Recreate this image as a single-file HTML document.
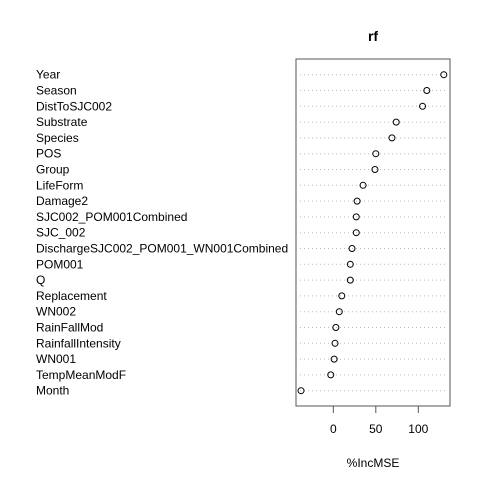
<!DOCTYPE html>
<html><head><meta charset="utf-8"><style>body{margin:0;background:#fff}svg{display:block;font-family:"Liberation Sans",Arial,sans-serif}</style></head>
<body>
<svg id="c" width="480" height="480">
<rect x="296" y="59" width="154" height="347" fill="none" stroke="#555" stroke-width="1"/>
<text x="373" y="41" text-anchor="middle" font-size="14" font-weight="bold">rf</text>
<text x="373" y="467" text-anchor="middle" font-size="12">%IncMSE</text>
</svg>
<script>
const categories=["Year","Season","DistToSJC002","Substrate","Species","POS","Group","LifeForm","Damage2","SJC002_POM001Combined","SJC_002","DischargeSJC002_POM001_WN001Combined","POM001","Q","Replacement","WN002","RainFallMod","RainfallIntensity","WN001","TempMeanModF","Month"];
const values=[130,110,105,74,69,50,49,35,28,27,27,22,20,20,10,7,3,2,1,-3,-38];
const tickValues=[0,50,100];
const tickLabels=["0","50","100"];
const svg=document.getElementById('c');
const NS='http://www.w3.org/2000/svg';
const x0=296,x1=450,dmin=-43.9,dmax=137.3;
const xs=v=>x0+(v-dmin)/(dmax-dmin)*(x1-x0);
const ys=i=>74.7+i*15.8;
function mk(t,a){const e=document.createElementNS(NS,t);for(const k in a)e.setAttribute(k,a[k]);svg.appendChild(e);return e;}
categories.forEach((c,i)=>{
 const y=ys(i);
 const g=mk('line',{x1:x0+4,x2:x1-4,y1:y,y2:y,stroke:'#bbb','stroke-dasharray':'1 3'});
 
 
 const t=mk('text',{x:36,y:y+4,'font-size':12});
 t.textContent=c;
 
 
 const p=mk('circle',{cx:xs(values[i]),cy:y,r:3,fill:'none',stroke:'#000','stroke-width':1});
 
 
});
tickValues.forEach((v,i)=>{
 const x=xs(v);
 const l=mk('line',{x1:x,x2:x,y1:406,y2:413,stroke:'#555'});
 
 
 const t=mk('text',{x:x,y:433,'text-anchor':'middle','font-size':12});
 t.textContent=tickLabels[i];
 
 
});
</script>
</body></html>
